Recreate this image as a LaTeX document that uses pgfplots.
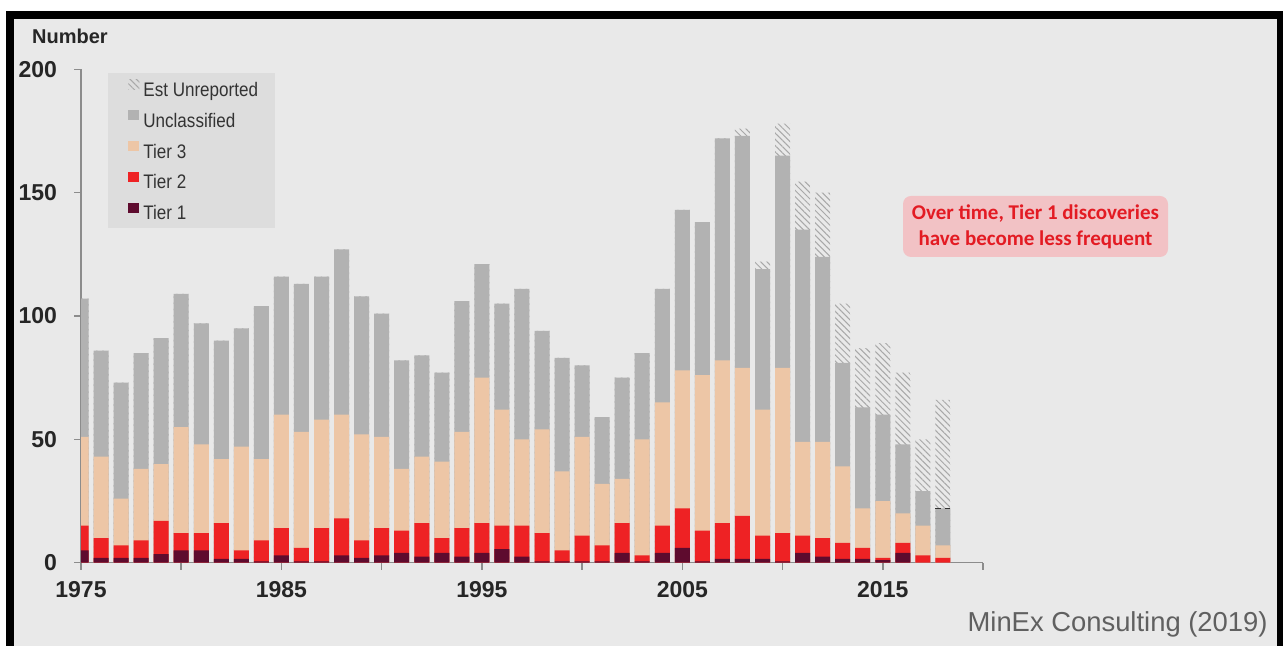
\documentclass[border=0pt]{standalone}
\usepackage{fontspec}
\setmainfont{Liberation Sans}
\newfontfamily\legfont[FakeStretch=0.87]{Liberation Sans}
\newfontfamily\carlito{Carlito}
\usepackage{pgfplots}
\pgfplotsset{compat=1.18}
\usepackage{pgfplotstable}
\usetikzlibrary{patterns.meta}

\definecolor{bg}{HTML}{E9E9E9}
\definecolor{legendbg}{HTML}{DDDDDD}
\definecolor{uncl}{HTML}{B2B2B2}
\definecolor{tierthree}{HTML}{EDC6A6}
\definecolor{tiertwo}{HTML}{EE2224}
\definecolor{tierone}{HTML}{5E0B2E}
\definecolor{hatchgray}{HTML}{A8A8A8}
\definecolor{annofill}{HTML}{F2C2C5}
\definecolor{annotext}{HTML}{E31B23}
\definecolor{axisgray}{HTML}{8C8C8C}
\definecolor{legtext}{HTML}{333333}
\definecolor{srcgray}{HTML}{606060}

\pgfplotstableread{
year t1 t2 t3 u h
1975 5 15 51 107 107
1976 2 10 43 86 86
1977 2 7 26 73 73
1978 2 9 38 85 85
1979 3.5 17 40 91 91
1980 5 12 55 109 109
1981 5 12 48 97 97
1982 1.5 16 42 90 90
1983 1.5 5 47 95 95
1984 0.5 9 42 104 104
1985 3 14 60 116 116
1986 0.5 6 53 113 113
1987 0.5 14 58 116 116
1988 3 18 60 127 127
1989 2 9 52 108 108
1990 3 14 51 101 101
1991 4 13 38 82 82
1992 2.5 16 43 84 84
1993 4 10 41 77 77
1994 2.5 14 53 106 106
1995 4 16 75 121 121
1996 5.5 15 62 105 105
1997 2.5 15 50 111 111
1998 0.5 12 54 94 94
1999 0.5 5 37 83 83
2000 0.5 11 51 80 80
2001 0.5 7 32 59 59
2002 4 16 34 75 75
2003 0.5 3 50 85 85
2004 4 15 65 111 111
2005 6 22 78 143 143
2006 0.5 13 76 138 138
2007 1.5 16 82 172 172
2008 1.5 19 79 173 176
2009 1.5 11 62 119 122
2010 0.5 12 79 165 178
2011 4 11 49 135 154.5
2012 2.5 10 49 124 150
2013 1.5 8 39 81 105
2014 1.5 6 22 63 87
2015 1 2 25 60 89
2016 4 8 20 48 77
2017 0 3 15 29 50
2018 0 2 7 22 66
}\datatable

\begin{document}
\begin{tikzpicture}
\useasboundingbox (0,0) rectangle (641.5pt,323pt);
\fill[white] (0,0) rectangle (641.5pt,323pt);
\fill[black] (3pt,0) rectangle (641.5pt,317.5pt);
\fill[bg] (7pt,0) rectangle (638.5pt,313.5pt);
\begin{axis}[
  scale only axis, width=451pt, height=246.7pt,
  at={(40.5pt,41.65pt)}, anchor=south west,
  xmin=1975, xmax=2020, ymin=0, ymax=200,
  axis x line*=bottom, axis y line*=left,
  axis line style={draw=axisgray, line width=0.75pt},
  xtick={1975,1980,...,2020},
  xticklabels={1975,,1985,,1995,,2005,,2015,},
  ytick={0,50,...,200},
  tick align=outside, major tick length=3.5pt,
  tick style={draw=axisgray, line width=0.75pt},
  /pgf/number format/assume math mode=true,
  xticklabel style={font=\bfseries\fontsize{11.5}{13}\selectfont, text=black!85, yshift=-2.5pt},
  yticklabel style={font=\bfseries\fontsize{11.5}{13}\selectfont, text=black!85, xshift=-5pt},
  ybar, bar width=7.5pt,
  legend image code/.code={\draw[#1,draw=none] (0pt,1pt) rectangle (5.5pt,6pt);},
  legend cell align=left,
  legend style={at={(0.0521,0.9803)}, anchor=north west, draw=none, fill=none,
    inner sep=0pt, row sep=3.9pt, font=\legfont\fontsize{9.8}{11}\selectfont, text=legtext,
    nodes={inner xsep=2pt, inner ysep=1pt, text height=7pt, text depth=2pt}},
]
\fill[legendbg] (rel axis cs:0.0299,0.9925) rectangle (rel axis cs:0.2151,0.6783);
\addplot[bar shift=0pt, draw=none, pattern={Lines[angle=-45,distance=2.2pt,line width=0.5pt]}, pattern color=hatchgray] table[x=year,y=h]{\datatable};
\addplot[bar shift=0pt, draw=none, fill=uncl] table[x=year,y=u]{\datatable};
\addplot[bar shift=0pt, draw=none, fill=tierthree] table[x=year,y=t3]{\datatable};
\addplot[bar shift=0pt, draw=none, fill=tiertwo] table[x=year,y=t2]{\datatable};
\addplot[bar shift=0pt, draw=none, fill=tierone] table[x=year,y=t1]{\datatable};
\draw[black!80, densely dashed, line width=0.5pt] (axis cs:2017.625,22) -- (axis cs:2018.375,22);
\legend{Est Unreported, Unclassified, Tier 3, Tier 2, Tier 1}
\end{axis}
\node[anchor=west, inner sep=0pt, font=\bfseries\fontsize{10}{12}\selectfont, text=black!85] at (15.85pt,305pt) {Number};
\node[fill=annofill, rounded corners=4pt, minimum width=132.5pt, minimum height=30.5pt, align=center, text=annotext, font=\carlito\bfseries\fontsize{10.5}{13}\selectfont] at (517.75pt,209.75pt) {Over time, Tier 1 discoveries\\have become less frequent};
\node[anchor=base east, inner sep=0pt, font=\fontsize{13.7}{16}\selectfont, text=srcgray] at (634pt,7pt) {MinEx Consulting (2019)};
\end{tikzpicture}
\end{document}
